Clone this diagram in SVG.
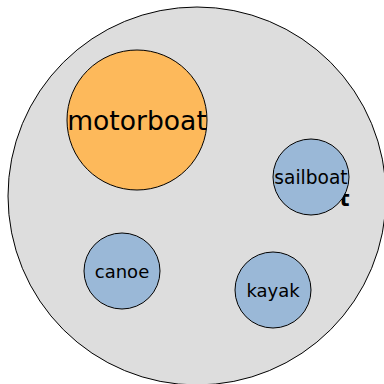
<svg xmlns="http://www.w3.org/2000/svg" width="384" height="384" viewBox="0 0 384 384">
<style>
.c{stroke:#000;stroke-width:1}
.blue{fill:#9ab8d7}
.lbl{font-family:"DejaVu Sans",sans-serif;text-anchor:middle;dominant-baseline:central;fill:#000}
</style>
<rect width="384" height="384" fill="#fff"/>
<g id="boats">
<circle class="c" cx="197" cy="196" r="189" fill="#dddddd"/>
</g>
<g id="t-label"><text x="339.5" y="205.5" font-family="DejaVu Sans,sans-serif" font-weight="bold" font-size="21">t</text></g>
<g id="motorboat">
<circle class="c" cx="137" cy="120" r="70" fill="#fdb95b"/>
<text class="lbl" x="137" y="120" font-size="26.6">motorboat</text>
</g>
<g id="sailboat">
<circle class="c blue" cx="311" cy="177" r="38"/>
<text class="lbl" x="311" y="177" font-size="18.6">sailboat</text>
</g>
<g id="canoe">
<circle class="c blue" cx="122" cy="271" r="38"/>
<text class="lbl" x="122" y="271" font-size="18">canoe</text>
</g>
<g id="kayak">
<circle class="c blue" cx="273" cy="290" r="38"/>
<text class="lbl" x="273" y="290" font-size="18">kayak</text>
</g>
<g id="connectors"></g>
</svg>
